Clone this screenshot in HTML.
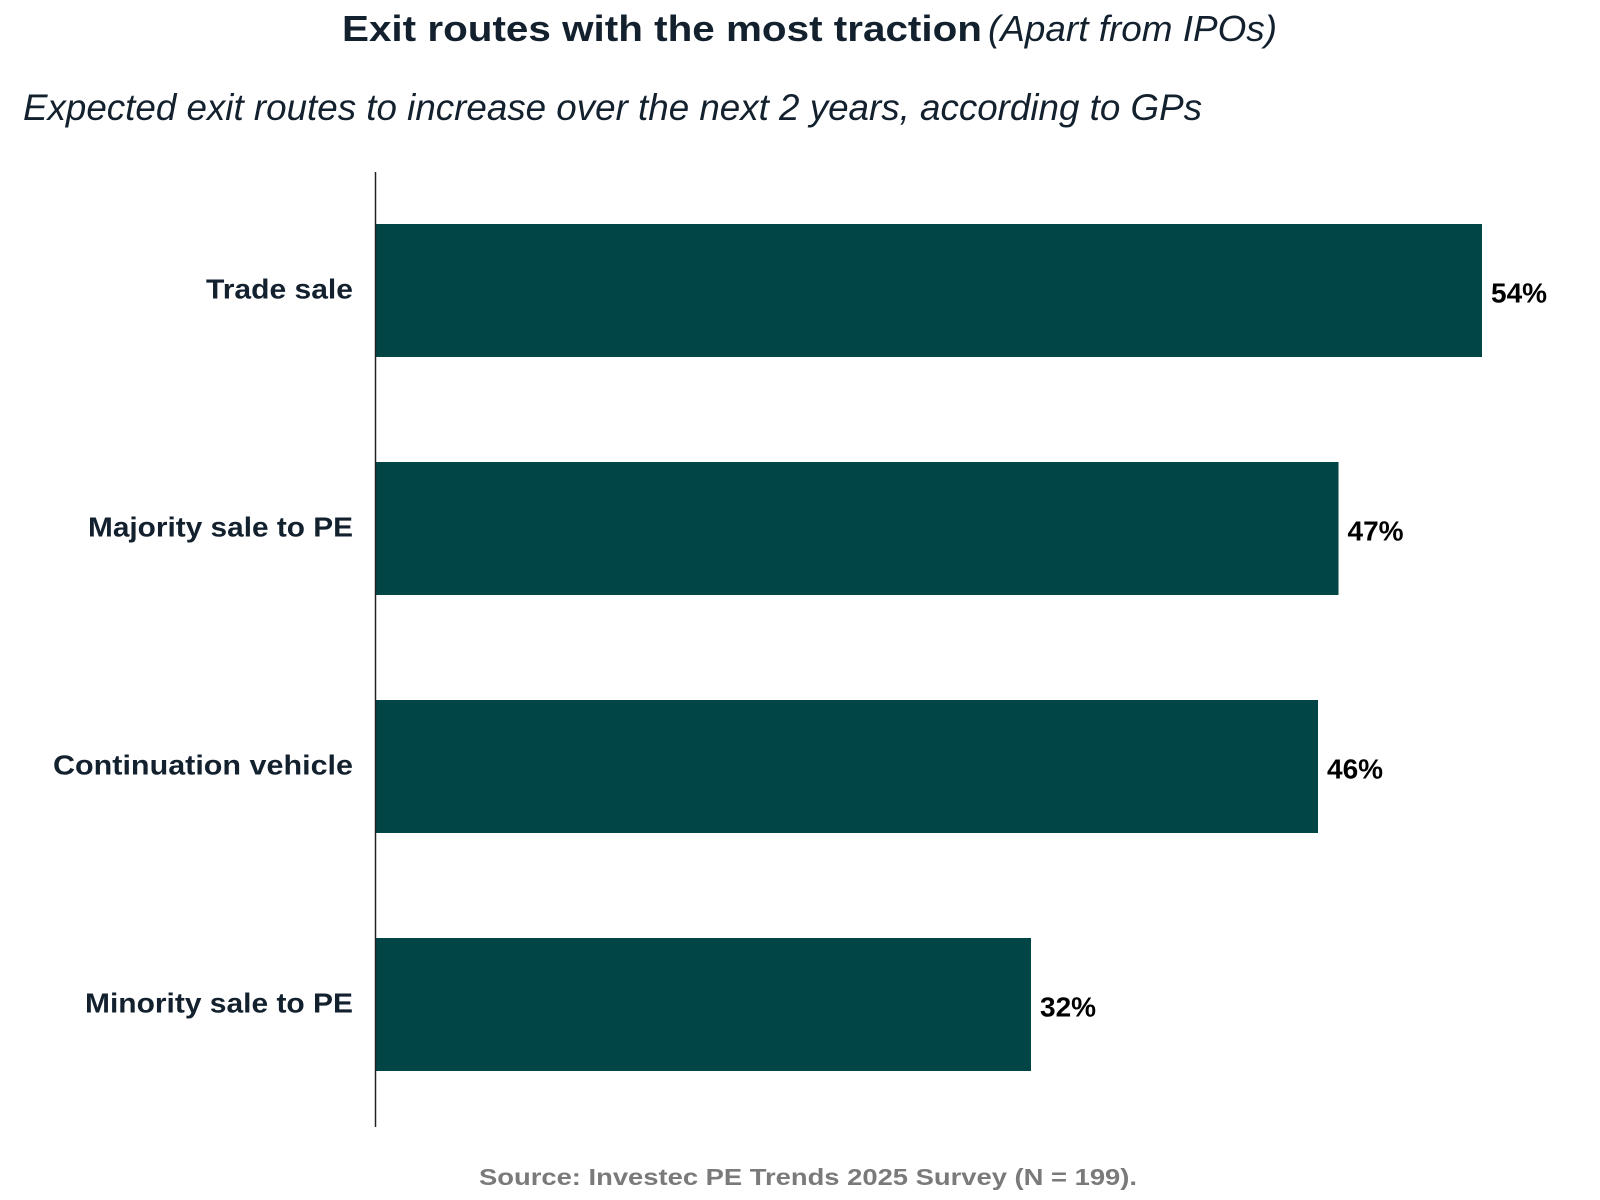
<!DOCTYPE html>
<html><head><meta charset="utf-8"><style>html,body{margin:0;padding:0;background:#fff}svg{display:block}</style></head>
<body>
<svg id="chart" width="1600" height="1200" xmlns="http://www.w3.org/2000/svg" font-family="Liberation Sans, sans-serif">
<text x="342" y="41" font-size="36" font-weight="bold" fill="#13212f" textLength="640" lengthAdjust="spacingAndGlyphs">Exit routes with the most traction</text>
<text x="988" y="41" font-size="36" font-style="italic" fill="#13212f" textLength="289" lengthAdjust="spacingAndGlyphs">(Apart from IPOs)</text>
<text x="23" y="120" font-size="37" font-style="italic" fill="#13212f" textLength="1179" lengthAdjust="spacingAndGlyphs">Expected exit routes to increase over the next 2 years, according to GPs</text>
<g id="bars"></g>
<line x1="375.5" y1="172" x2="375.5" y2="1127" stroke="#222" stroke-width="1.5"/>
<text x="808" y="1185" font-size="23" font-weight="bold" fill="#7a7a7a" text-anchor="middle" textLength="658" lengthAdjust="spacingAndGlyphs">Source: Investec PE Trends 2025 Survey (N = 199).</text>
</svg>
<script>
const categories = ["Trade sale", "Majority sale to PE", "Continuation vehicle", "Minority sale to PE"];
const values = [54, 47, 46, 32];
const valueLabels = ["54%", "47%", "46%", "32%"];
const NS = "http://www.w3.org/2000/svg";
const x0 = 375, pxPerUnit = 20.5;
const xScale = v => x0 + v * pxPerUnit;
const bandTop = 224, bandStep = 238, barH = 133;
const yScale = i => bandTop + i * bandStep;
const labelWidths = [147, 265, 300, 268];
const g = document.getElementById('bars');
categories.forEach((c, i) => {
  const y = yScale(i);
  const r = document.createElementNS(NS, 'rect');
  
  
  r.setAttribute('x', x0); r.setAttribute('y', y);
  r.setAttribute('width', xScale(values[i]) - x0); r.setAttribute('height', barH);
  r.setAttribute('fill', '#024547');
  g.appendChild(r);
  const t = document.createElementNS(NS, 'text');
  
  
  t.setAttribute('x', 353); t.setAttribute('y', y + barH / 2 + 8);
  t.setAttribute('text-anchor', 'end'); t.setAttribute('font-size', '28');
  t.setAttribute('font-weight', 'bold'); t.setAttribute('fill', '#13212f');
  t.setAttribute('textLength', labelWidths[i]); t.setAttribute('lengthAdjust', 'spacingAndGlyphs');
  t.textContent = c;
  g.appendChild(t);
  const v = document.createElementNS(NS, 'text');
  
  
  v.setAttribute('x', xScale(values[i]) + 9); v.setAttribute('y', y + barH / 2 + 12);
  v.setAttribute('font-size', '28'); v.setAttribute('font-weight', 'bold'); v.setAttribute('fill', '#000');
  v.textContent = valueLabels[i];
  g.appendChild(v);
});
</script>
</body></html>
